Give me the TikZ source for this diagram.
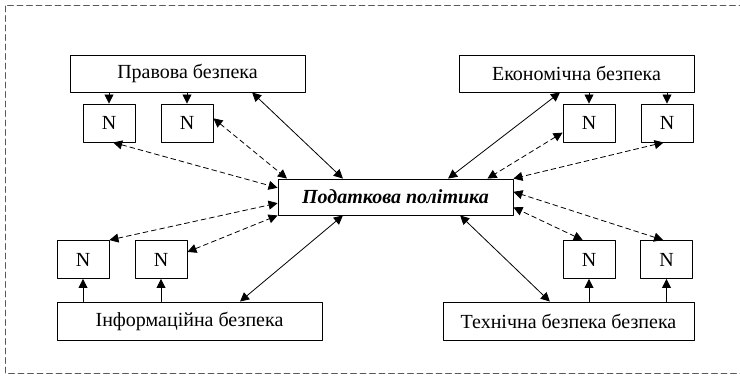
\documentclass[tikz,border=0pt]{standalone}
\usepackage{fontspec}
\setmainfont{Liberation Serif}
\usetikzlibrary{positioning, arrows.meta, calc}

\begin{document}
\begin{tikzpicture}[x=1pt, y=-1pt, line cap=round, line join=round,
    box/.style={draw, line width=0.9pt, minimum height=37pt, inner sep=0pt, font=\fontsize{20}{24}\selectfont},
    nbox/.style={draw, line width=0.9pt, minimum width=52pt, minimum height=38pt, inner sep=0pt, font=\fontsize{20}{24}\selectfont},
    tip/.style={-{Triangle[length=9pt,width=9pt]}, line width=0.8pt},
    both/.style={{Triangle[length=9pt,width=9pt]}-{Triangle[length=9pt,width=9pt]}, line width=0.8pt},
    dboth/.style={both, dash pattern=on 5pt off 3.5pt}]
                \useasboundingbox (0,0) rectangle (740,380);
                % outer frame
                \draw[black!65, line width=0.8pt, dash pattern=on 6pt off 3.5pt] (745,5) -- (5,5) -- (5,373) -- (745,373);
                % main boxes
                \node[box, minimum width=235pt] (prav) at (187.5,73.5) {Правова безпека};
                \node[box, minimum width=235pt] (econ) at (576.5,73.5) {Економічна безпека};
                \node[box, minimum width=235pt, minimum height=36pt, font=\fontsize{20}{24}\selectfont\bfseries\itshape] (pod) at (395.5,197) {Податкова політика};
                \node[box, minimum width=265pt, minimum height=38pt] (info) at (189.5,321) {Інформаційна безпека};
                \node[box, minimum width=251pt, minimum height=38pt] (tech) at (568.5,321) {Технічна безпека безпека};
                % N boxes
                \foreach \nm/\x/\y in {n1/109/123, n2/187/123, n3/589/123, n4/667/123,
                                       n5/83/259.5, n6/161/259.5, n7/589/259.5, n8/666.5/259.5}
                    \node[nbox] (\nm) at (\x,\y) {N};
                % short arrows to N
                \foreach \nm in {n1, n2}
                    \draw[tip] (prav.south -| \nm) -- (\nm.north);
                \foreach \nm in {n3, n4}
                    \draw[tip] (econ.south -| \nm) -- (\nm.north);
                \foreach \nm in {n5, n6}
                    \draw[tip] (info.north -| \nm) -- (\nm.south);
                \foreach \nm in {n7, n8}
                    \draw[tip] (tech.north -| \nm) -- (\nm.south);
                % solid links to tax policy
                \draw[both] ($(prav.south west)!0.774!(prav.south east)$) -- ($(pod.north west)!0.277!(pod.north east)$);
                \draw[both] ($(econ.south west)!0.43!(econ.south east)$) -- ($(pod.north west)!0.723!(pod.north east)$);
                \draw[both] ($(info.north west)!0.69!(info.north east)$) -- ($(pod.south west)!0.277!(pod.south east)$);
                \draw[both] ($(tech.north west)!0.426!(tech.north east)$) -- ($(pod.south west)!0.774!(pod.south east)$);
                % dashed links
                \draw[dboth] (n1.-78) -- ($(pod.north west)!0.25!(pod.south west)$);
                \draw[dboth] (n2.10) -- ($(pod.north west)!0.04!(pod.north east)$);
                \draw[dboth] (n3.200) -- ($(pod.north west)!0.89!(pod.north east)$);
                \draw[dboth] (n4.-100) -- (pod.north east);
                \draw[dboth] (n5.north east) -- ($(pod.north west)!0.667!(pod.south west)$);
                \draw[dboth] (n6.16) -- (pod.south west);
                \draw[dboth] (n7.108) -- ($(pod.north east)!0.78!(pod.south east)$);
                \draw[dboth] (n8.100) -- ($(pod.north east)!0.36!(pod.south east)$);
        \end{tikzpicture}
\end{document}
